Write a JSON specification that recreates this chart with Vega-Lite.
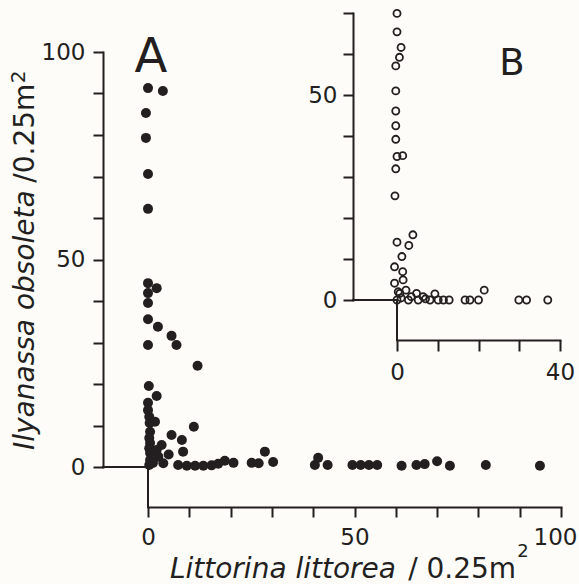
{
  "$schema": "https://vega.github.io/schema/vega-lite/v6.json",
  "width": 413,
  "height": 415,
  "autosize": "none",
  "padding": {"left": 148, "top": 52, "right": 18, "bottom": 117},
  "background": "#fdfcf9",
  "config": {
    "view": {"stroke": null},
    "axis": {
      "domainColor": "#231f20", "domainWidth": 2, "domainCap": "square",
      "tickColor": "#231f20", "tickWidth": 2,
      "labelFont": "DejaVu Sans", "labelFontSize": 23, "labelColor": "#231f20",
      "grid": false, "labelFlush": false, "labelOverlap": false
    },
    "text": {"font": "DejaVu Sans", "color": "#231f20"}
  },
  "layer": [
    {
      "layer": [
        {
          "data": {"values": [
            {"x": 0, "y": 91.3}, {"x": 3.6, "y": 90.6}, {"x": -0.5, "y": 85.3}, {"x": -0.5, "y": 79.3}, {"x": 0, "y": 70.6}, {"x": 0, "y": 62.2},
            {"x": 0, "y": 44.3}, {"x": 2.1, "y": 43.1}, {"x": 0, "y": 41.9}, {"x": 0, "y": 39.5}, {"x": 0, "y": 35.6}, {"x": 2.4, "y": 33.8},
            {"x": 5.7, "y": 31.6}, {"x": 6.9, "y": 29.4}, {"x": 0, "y": 29.4}, {"x": 12, "y": 24.4}, {"x": 0.2, "y": 19.5},
            {"x": 2.1, "y": 17.1}, {"x": 0, "y": 15.5}, {"x": 0, "y": 13.7}, {"x": 0.3, "y": 12.1}, {"x": 0.4, "y": 10.6}, {"x": 1.7, "y": 10.9},
            {"x": 0.5, "y": 8.5}, {"x": 0.3, "y": 7}, {"x": 0.5, "y": 5.8}, {"x": 0.3, "y": 4.5}, {"x": 0.5, "y": 3.4}, {"x": 0.5, "y": 1.7},
            {"x": 0.3, "y": 0.5}, {"x": 1.2, "y": 1}, {"x": 2.1, "y": 4.1}, {"x": 3.3, "y": 5.3}, {"x": 3.7, "y": 0.9}, {"x": 2.5, "y": 2.5},
            {"x": 5.7, "y": 7.7}, {"x": 8.2, "y": 6.5}, {"x": 8.5, "y": 3.7}, {"x": 11.1, "y": 9.7}, {"x": 5, "y": 3},
            {"x": 7.3, "y": 0.5}, {"x": 9.4, "y": 0.3}, {"x": 11.4, "y": 0.3}, {"x": 13.4, "y": 0.3}, {"x": 15.4, "y": 0.4}, {"x": 17, "y": 0.8},
            {"x": 18.6, "y": 1.5}, {"x": 20.7, "y": 1}, {"x": 25.1, "y": 1}, {"x": 26.8, "y": 0.9}, {"x": 28.3, "y": 3.7}, {"x": 30.3, "y": 1.2},
            {"x": 40.4, "y": 0.5}, {"x": 41.2, "y": 2.2}, {"x": 43.5, "y": 0.5}, {"x": 49.5, "y": 0.5}, {"x": 51.5, "y": 0.5}, {"x": 53.5, "y": 0.5},
            {"x": 55.5, "y": 0.5}, {"x": 61.4, "y": 0.3}, {"x": 65, "y": 0.5}, {"x": 67, "y": 0.7}, {"x": 70, "y": 1.4}, {"x": 73.1, "y": 0.3},
            {"x": 81.8, "y": 0.5}, {"x": 94.9, "y": 0.3}
          ]},
          "mark": {"type": "circle", "size": 100, "color": "#231f20", "opacity": 1},
          "encoding": {
            "x": {"field": "x", "type": "quantitative",
              "scale": {"domain": [0, 100], "nice": false, "zero": false},
              "axis": {"orient": "bottom", "offset": 40, "values": [0, 10, 20, 30, 40, 50, 60, 70, 80, 90, 100],
                "labelExpr": "datum.value % 50 === 0 ? datum.label : ''",
                "labelOffset": {"condition": {"test": "datum.value === 100", "value": -6}, "value": 0},
                "tickSize": 10, "labelPadding": 9, "title": null}},
            "y": {"field": "y", "type": "quantitative",
              "scale": {"domain": [0, 100], "nice": false, "zero": false},
              "axis": {"orient": "left", "offset": 45, "values": [0, 10, 20, 30, 40, 50, 60, 70, 80, 90, 100],
                "labelExpr": "datum.value % 50 === 0 ? datum.label : ''", "tickSize": 10, "labelPadding": 8, "title": null}}
          }
        },
        {
          "data": {"values": [{}]},
          "mark": {"type": "rule", "color": "#231f20", "strokeWidth": 2, "strokeCap": "square"},
          "encoding": {"x": {"datum": -10.9, "type": "quantitative"}, "x2": {"datum": 0}, "y": {"datum": 0, "type": "quantitative"}}
        },
        {
          "data": {"values": [{}]},
          "mark": {"type": "rule", "color": "#231f20", "strokeWidth": 2, "strokeCap": "square"},
          "encoding": {"x": {"datum": 0, "type": "quantitative"}, "y": {"datum": 0, "type": "quantitative"}, "y2": {"datum": -9.64}}
        },
        {
          "data": {"values": [{"t": "A"}]},
          "mark": {"type": "text", "fontSize": 48, "align": "center", "baseline": "alphabetic"},
          "encoding": {"text": {"field": "t"}, "x": {"datum": 0.7, "type": "quantitative"}, "y": {"datum": 95.2, "type": "quantitative"}}
        },
        {
          "data": {"values": [{"t": "Littorina littorea"}]},
          "mark": {"type": "text", "fontSize": 28, "fontStyle": "italic", "align": "left", "baseline": "alphabetic"},
          "encoding": {"text": {"field": "t"}, "x": {"datum": 5.3, "type": "quantitative"}, "y": {"datum": -26.7, "type": "quantitative"}}
        },
        {
          "data": {"values": [{"t": "/ 0.25m"}]},
          "mark": {"type": "text", "fontSize": 28, "align": "left", "baseline": "alphabetic"},
          "encoding": {"text": {"field": "t"}, "x": {"datum": 63, "type": "quantitative"}, "y": {"datum": -26.7, "type": "quantitative"}}
        },
        {
          "data": {"values": [{"t": "2"}]},
          "mark": {"type": "text", "fontSize": 18, "align": "left", "baseline": "alphabetic"},
          "encoding": {"text": {"field": "t"}, "x": {"datum": 89.4, "type": "quantitative"}, "y": {"datum": -21.7, "type": "quantitative"}}
        },
        {
          "data": {"values": [{"t": "Ilyanassa obsoleta"}]},
          "mark": {"type": "text", "fontSize": 28, "fontStyle": "italic", "align": "left", "baseline": "alphabetic", "angle": 270},
          "encoding": {"text": {"field": "t"}, "x": {"datum": -27.6, "type": "quantitative"}, "y": {"datum": 4.1, "type": "quantitative"}}
        },
        {
          "data": {"values": [{"t": "/0.25m"}]},
          "mark": {"type": "text", "fontSize": 28, "align": "left", "baseline": "alphabetic", "angle": 270},
          "encoding": {"text": {"field": "t"}, "x": {"datum": -27.6, "type": "quantitative"}, "y": {"datum": 68.5, "type": "quantitative"}}
        },
        {
          "data": {"values": [{"t": "2"}]},
          "mark": {"type": "text", "fontSize": 20, "align": "left", "baseline": "alphabetic", "angle": 270},
          "encoding": {"text": {"field": "t"}, "x": {"datum": -29.8, "type": "quantitative"}, "y": {"datum": 92.5, "type": "quantitative"}}
        }
      ]
    },
    {
      "layer": [
        {
          "data": {"values": [
            {"x": 0, "y": 69.9}, {"x": 0, "y": 65.4}, {"x": 1, "y": 61.6}, {"x": 0.6, "y": 59.2}, {"x": -0.3, "y": 57.1}, {"x": -0.3, "y": 51},
            {"x": -0.3, "y": 46.1}, {"x": -0.3, "y": 42.5}, {"x": -0.3, "y": 39.2}, {"x": 0, "y": 35}, {"x": 1.4, "y": 35.2}, {"x": -0.3, "y": 32},
            {"x": -0.5, "y": 25.4}, {"x": 3.9, "y": 15.9}, {"x": 2.9, "y": 13.3}, {"x": 0, "y": 14.1}, {"x": 1.2, "y": 10.6}, {"x": -0.6, "y": 8.1},
            {"x": 1.4, "y": 6.9}, {"x": -0.6, "y": 4.1}, {"x": 1.5, "y": 4.9}, {"x": 2.2, "y": 2.4}, {"x": 0, "y": 0}, {"x": 0.7, "y": 1.6},
            {"x": 2.8, "y": 0}, {"x": 4.8, "y": 1.6}, {"x": 5.2, "y": 0}, {"x": 6.4, "y": 0.8}, {"x": 8.1, "y": 0}, {"x": 9.3, "y": 1.5},
            {"x": 10.1, "y": 0}, {"x": 11.4, "y": 0}, {"x": 12.8, "y": 0}, {"x": 16.7, "y": 0}, {"x": 17.9, "y": 0}, {"x": 20, "y": 0},
            {"x": 21.4, "y": 2.4}, {"x": 29.9, "y": 0}, {"x": 31.8, "y": 0}, {"x": 37, "y": 0},
            {"x": 0.3, "y": 2}, {"x": 1, "y": 0.5}, {"x": 3.5, "y": 0.8}, {"x": 7, "y": 0.3}
          ]},
          "mark": {"type": "point", "shape": "circle", "filled": false, "size": 50, "strokeWidth": 1.8, "color": "#231f20", "opacity": 1},
          "encoding": {
            "x": {"field": "x", "type": "quantitative",
              "scale": {"domain": [0, 40], "range": [249, 412], "nice": false, "zero": false},
              "axis": {"orient": "bottom", "offset": -127, "values": [0, 10, 20, 30, 40],
                "labelExpr": "datum.value === 0 || datum.value === 40 ? datum.label : ''", "tickSize": 11, "labelPadding": 10, "title": null}},
            "y": {"field": "y", "type": "quantitative",
              "scale": {"domain": [0, 70], "range": [248, -39], "nice": false, "zero": false},
              "axis": {"orient": "left", "offset": -205, "values": [0, 10, 20, 30, 40, 50, 60, 70],
                "labelExpr": "datum.value % 50 === 0 ? datum.label : ''", "tickSize": 10, "labelPadding": 6, "title": null}}
          }
        },
        {
          "data": {"values": [{}]},
          "mark": {"type": "rule", "color": "#231f20", "strokeWidth": 2, "strokeCap": "square"},
          "encoding": {"x": {"datum": -10.8, "type": "quantitative"}, "x2": {"datum": 0}, "y": {"datum": 0, "type": "quantitative"}}
        },
        {
          "data": {"values": [{}]},
          "mark": {"type": "rule", "color": "#231f20", "strokeWidth": 2, "strokeCap": "square"},
          "encoding": {"x": {"datum": 0, "type": "quantitative"}, "y": {"datum": 0, "type": "quantitative"}, "y2": {"datum": -9.75}}
        },
        {
          "data": {"values": [{"t": "B"}]},
          "mark": {"type": "text", "fontSize": 37, "align": "center", "baseline": "alphabetic"},
          "encoding": {"text": {"field": "t"}, "x": {"datum": 28.2, "type": "quantitative"}, "y": {"datum": 54.9, "type": "quantitative"}}
        }
      ]
    }
  ],
  "resolve": {
    "scale": {"x": "independent", "y": "independent"},
    "axis": {"x": "independent", "y": "independent"}
  }
}
